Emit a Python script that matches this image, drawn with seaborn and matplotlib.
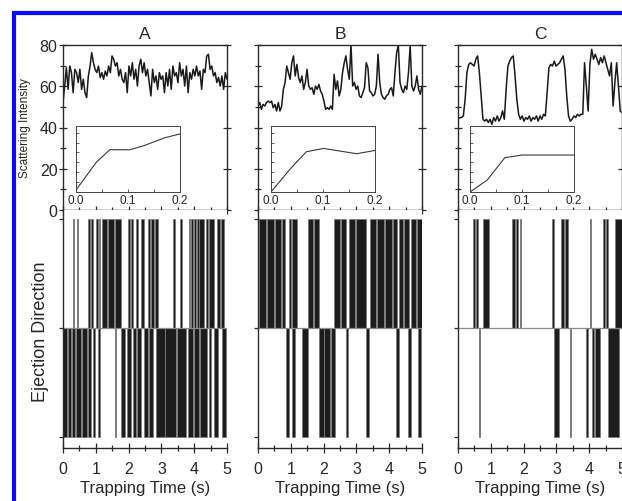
import numpy as np
import matplotlib

matplotlib.use("Agg")  # no display

import matplotlib.pyplot as plt
import matplotlib.patches as patches
from matplotlib.ticker import MultipleLocator
import seaborn as sns

# ---- values ----
# scattering intensity traces (evenly spaced samples over 0-5 s)
trace_a = [52.1, 60.1, 69.0, 58.5, 69.8, 66.6, 56.9, 68.2, 66.6, 61.8, 68.2, 58.5, 63.4, 56.9, 54.5,
           65.0, 69.8, 76.3, 71.4, 68.2, 66.6, 69.8, 64.2, 66.6, 63.4, 67.4, 65.0, 69.8, 66.6, 74.7,
           73.1, 69.8, 71.4, 65.0, 68.2, 63.4, 61.8, 66.6, 56.9, 69.8, 65.0, 71.4, 63.4, 68.2, 60.1,
           69.8, 73.1, 66.6, 71.4, 65.0, 68.2, 61.8, 55.3, 68.2, 61.8, 65.0, 58.5, 66.6, 63.4, 65.0,
           56.9, 66.6, 60.1, 68.2, 58.5, 69.8, 65.0, 66.6, 61.8, 71.4, 65.0, 68.2, 60.1, 69.8, 56.9,
           66.6, 63.4, 68.2, 65.0, 69.8, 65.0, 67.4, 58.5, 68.2, 66.6, 74.7, 75.5, 68.2, 69.8, 65.0,
           66.6, 61.8, 64.2, 60.1, 65.0, 58.5, 66.6, 63.4]
trace_b = [50.4, 52.1, 48.8, 51.2, 50.4, 52.1, 52.8, 52.1, 52.8, 49.6, 51.2, 48.0, 52.1, 48.0, 50.4,
           58.5, 61.8, 69.8, 66.6, 63.4, 71.4, 74.7, 65.0, 70.6, 64.2, 61.8, 65.0, 58.5, 61.8, 68.2,
           60.1, 58.5, 59.3, 56.1, 60.1, 58.5, 60.9, 57.7, 56.1, 52.8, 48.8, 49.6, 48.8, 50.4, 48.8,
           65.8, 58.5, 62.6, 55.3, 58.5, 66.6, 71.4, 74.7, 68.2, 63.4, 80.0, 60.1, 61.8, 58.5, 60.1,
           55.3, 54.5, 56.9, 59.3, 71.4, 69.0, 57.7, 56.9, 55.3, 56.1, 60.1, 75.5, 61.8, 56.1, 54.5,
           53.7, 55.3, 56.1, 58.5, 59.3, 55.3, 66.6, 76.3, 80.0, 61.8, 58.5, 56.9, 60.1, 58.5, 66.6,
           79.5, 60.1, 57.7, 60.1, 65.0, 58.5, 56.1, 60.1]
trace_c = [44.0, 44.8, 44.8, 45.6, 53.7, 66.6, 70.6, 71.4, 70.6, 69.8, 73.1, 74.7, 66.6, 55.3, 44.0,
           43.1, 44.0, 42.4, 44.0, 41.5, 44.8, 43.1, 45.6, 43.1, 44.8, 48.0, 44.0, 58.5, 69.8, 72.2,
           73.9, 74.7, 65.0, 53.7, 46.4, 44.0, 45.6, 43.1, 44.8, 44.0, 45.6, 43.1, 44.8, 44.0, 45.6,
           43.1, 45.6, 44.0, 46.4, 45.6, 56.9, 69.0, 70.6, 69.8, 72.2, 69.8, 70.6, 71.4, 73.1, 74.7,
           68.2, 55.3, 45.6, 43.1, 44.0, 45.6, 44.8, 46.4, 45.6, 46.4, 46.4, 71.4, 60.1, 48.0, 70.6,
           77.9, 73.1, 75.5, 73.1, 70.6, 73.9, 71.4, 74.7, 71.4, 68.2, 65.0, 71.4, 50.4, 61.8, 71.4,
           60.1, 48.0, 47.2]

# insets (x in s, y in relative units 0-1)
inset_a_x = [0.0, 0.039, 0.065, 0.103, 0.13, 0.17, 0.2]
inset_a_y = [0.03, 0.45, 0.64, 0.64, 0.70, 0.82, 0.88]
inset_b_x = [0.0, 0.037, 0.068, 0.101, 0.133, 0.165, 0.2]
inset_b_y = [0.0, 0.35, 0.61, 0.66, 0.62, 0.58, 0.63]
inset_c_x = [0.0, 0.033, 0.067, 0.1, 0.2]
inset_c_y = [0.0, 0.18, 0.52, 0.56, 0.56]

# ejection events as (start, end) in s, up = +1, down = -1
up_a = [(0.29, 0.33), (0.42, 0.46), (0.76, 0.82), (0.86, 0.92), (1.02, 1.07), (1.10, 1.14),
        (1.20, 1.35), (1.38, 1.55), (1.58, 1.78), (1.98, 2.05), (2.08, 2.13), (2.23, 2.30),
        (2.38, 2.48), (2.59, 2.64), (2.68, 2.76), (2.80, 2.89), (3.36, 3.42), (3.56, 3.63),
        (3.83, 3.88), (3.91, 3.96), (4.00, 4.06), (4.09, 4.15), (4.15, 4.30), (4.37, 4.43),
        (4.46, 4.60), (4.70, 4.78), (4.82, 4.90)]
down_a = [(0.00, 0.12), (0.14, 0.25), (0.28, 0.37), (0.40, 0.55), (0.58, 0.72), (0.75, 0.85),
          (0.90, 0.98), (1.07, 1.12), (1.58, 1.63), (1.78, 1.90), (1.94, 2.08), (2.13, 2.22),
          (2.26, 2.38), (2.48, 2.58), (2.62, 2.74), (2.84, 3.10), (3.12, 3.45), (3.48, 3.75),
          (3.80, 3.95), (3.99, 4.15), (4.18, 4.40), (4.45, 4.50), (4.60, 4.73), (4.85, 4.97)]
up_b = [(0.04, 0.25), (0.28, 0.50), (0.53, 0.70), (0.72, 0.83), (0.93, 1.00), (1.03, 1.20),
        (1.51, 1.68), (1.71, 1.85), (2.33, 2.50), (2.53, 2.67), (2.77, 2.95), (2.98, 3.28),
        (3.41, 3.60), (3.63, 3.85), (3.88, 4.10), (4.12, 4.25), (4.30, 4.42), (4.45, 4.60),
        (4.66, 4.82), (4.85, 5.00)]
down_b = [(0.86, 0.96), (1.05, 1.13), (1.34, 1.52), (1.85, 2.00), (2.02, 2.20), (2.22, 2.36),
          (2.67, 2.74), (3.28, 3.37), (4.22, 4.30), (4.56, 4.66), (4.87, 4.97)]
up_c = [(0.45, 0.52), (0.55, 0.60), (0.76, 0.93), (1.65, 1.75), (1.78, 1.83), (1.88, 1.93),
        (2.88, 2.92), (3.14, 3.24), (3.26, 3.34), (4.01, 4.07), (4.42, 4.48), (4.52, 4.56),
        (4.80, 5.00)]
down_c = [(0.65, 0.68), (2.93, 3.08), (3.40, 3.45), (3.91, 3.97), (4.08, 4.16), (4.18, 4.32),
          (4.58, 4.92)]

panel_labels = ["A", "B", "C"]
time_ticks = [0, 1, 2, 3, 4, 5]
intensity_ticks = [0, 20, 40, 60, 80]
inset_ticks = [0.0, 0.1, 0.2]

# ---- layout (pixel positions of the original) ----
W, H = 622, 502
panel_left = [63, 258, 458]
panel_width = 164
inset_left = [76, 271, 470]
INK = "#2a2a2a"


def px_rect(x0, y0, x1, y1):
    return [x0 / W, 1 - y1 / H, (x1 - x0) / W, (y1 - y0) / H]


sns.set_style("ticks")
plt.rcParams["font.family"] = ["Liberation Sans", "DejaVu Sans"]
plt.rcParams["axes.edgecolor"] = INK
plt.rcParams["axes.linewidth"] = 1.0

fig = plt.figure(figsize=(W / 100, H / 100), dpi=100)
fig.patch.set_facecolor("white")

traces = [trace_a, trace_b, trace_c]
insets = [(inset_a_x, inset_a_y), (inset_b_x, inset_b_y), (inset_c_x, inset_c_y)]
events = [(up_a, down_a), (up_b, down_b), (up_c, down_c)]

for i in range(3):
    x0 = panel_left[i]
    x1 = x0 + panel_width

    # --- top: scattering intensity trace ---
    ax = fig.add_axes(px_rect(x0, 46, x1, 211))
    vals = np.array(traces[i])
    t = np.linspace(0, 5, len(vals))
    sns.lineplot(x=t, y=vals, color="#1a1a1a", linewidth=1.1, ax=ax)
    ax.set_xlim(0, 5)
    ax.set_ylim(0, 80)
    ax.set_xticks(time_ticks)
    ax.xaxis.set_minor_locator(MultipleLocator(0.5))
    ax.set_yticks(intensity_ticks)
    ax.yaxis.set_minor_locator(MultipleLocator(10))
    ax.tick_params(axis="both", which="both", direction="inout", color=INK, width=0.9)
    ax.tick_params(which="major", length=6)
    ax.tick_params(which="minor", length=4)
    ax.tick_params(axis="x", labelbottom=False, top=False)
    ax.tick_params(axis="y", left=True, right=True, labelright=False,
                   labelleft=(i == 0), labelsize=11.5, pad=1)
    ax.set_xlabel("")
    ax.set_ylabel("")
    ax.set_title(panel_labels[i], fontsize=12.5, pad=5)

    # --- inset ---
    ins = fig.add_axes(px_rect(inset_left[i], 127, inset_left[i] + 104, 193))
    ix, iy = insets[i]
    sns.lineplot(x=ix, y=iy, color="#3a3a3a", linewidth=0.8, ax=ins)
    ins.set_xlim(0, 0.2)
    ins.set_ylim(0, 1)
    ins.set_xticks(inset_ticks)
    ins.set_xticklabels(["0.0", "0.1", "0.2"])
    ins.xaxis.set_minor_locator(MultipleLocator(0.05))
    ins.set_yticks(np.arange(0, 1.01, 0.15))
    ins.set_yticklabels([])
    ins.tick_params(axis="both", which="both", direction="in", length=2.5, width=0.6,
                    color="#444444", labelsize=8.5, pad=1.5)
    for sp in ins.spines.values():
        sp.set_linewidth(0.7)
        sp.set_color("#444444")
    ins.set_xlabel("")
    ins.set_ylabel("")

    # --- bottom: ejection direction events ---
    bx = fig.add_axes(px_rect(x0, 211, x1, 449))
    ups, downs = events[i]
    for evs, sign in ((ups, 1), (downs, -1)):
        starts = [s for s, e in evs]
        widths = [e - s for s, e in evs]
        bx.bar(starts, sign, width=widths, align="edge", color="#1c1c1c",
               edgecolor="#7c7c7c", linewidth=0.6)
    bx.axhline(0, color="#8a8a8a", linewidth=0.9)
    bx.set_xlim(0, 5)
    bx.set_ylim(-1.1, 1.083)
    bx.spines["top"].set_visible(False)
    bx.spines["right"].set_visible(False)
    bx.set_xticks(time_ticks)
    bx.xaxis.set_minor_locator(MultipleLocator(0.5))
    bx.set_yticks([-1, 0, 1])
    bx.set_yticklabels([])
    bx.tick_params(axis="x", which="both", direction="inout", color=INK, width=0.9,
                   labelsize=11.5, pad=6)
    bx.tick_params(axis="x", which="major", length=7)
    bx.tick_params(axis="x", which="minor", length=4)
    bx.tick_params(axis="y", direction="out", length=3, color=INK, width=0.9)
    bx.set_xlabel("Trapping Time (s)", fontsize=12, labelpad=3)

fig.text(25 / W, 1 - 128 / H, "Scattering Intensity", rotation=90, fontsize=8.5,
         ha="center", va="center")
fig.text(41 / W, 1 - 332 / H, "Ejection Direction", rotation=90, fontsize=13,
         ha="center", va="center")

# blue selection frame around the figure
frame = patches.Rectangle((14 / W, -0.2), 1.2, 1.2 - 14 / H, transform=fig.transFigure,
                          fill=False, edgecolor="#0a0aff", linewidth=3.0, clip_on=False)
fig.add_artist(frame)

fig.savefig("out.png", dpi=100, facecolor="white")
